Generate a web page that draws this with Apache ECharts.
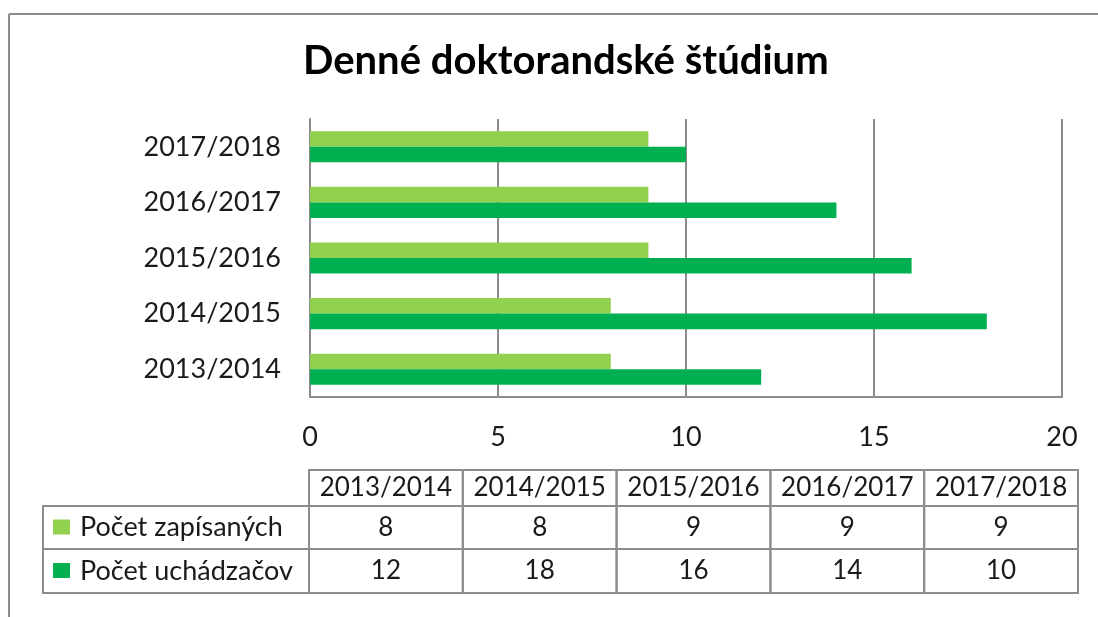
<!DOCTYPE html>
<html>
<head>
<meta charset="UTF-8">
<title></title>
<style type="text/css">
  html, body { margin: 0; padding: 0; background: #fff; }
  #chart { width: 1098px; height: 617px; }
</style>
</head>
<body>
<div id="chart"></div>
<script src="https://cdn.jsdelivr.net/npm/echarts@6/dist/echarts.min.js"></script>
<script type="text/javascript">
var years = ['2013/2014', '2014/2015', '2015/2016', '2016/2017', '2017/2018'];
var seriesNames = ['Počet zapísaných', 'Počet uchádzačov'];
var zapisanych = [8, 8, 9, 9, 9];
var uchadzacov = [12, 18, 16, 14, 10];
var xTicks = [0, 5, 10, 15, 20];

var colors = ['#92D050', '#00B050'];
var lineColor = '#8c8c8c';
var font = 'Lato';

var chart = echarts.init(document.getElementById('chart'));

// tabulka pod grafom
var tab = { left: 43, colStart: 309, right: 1078, rows: [470, 506, 549, 593] };
var colW = (tab.right - tab.colStart) / years.length;
var rowData = [zapisanych, uchadzacov];
var graphic = [];

// ramik okolo celeho obrazku (len hore a vlavo)
graphic.push({ type: 'line', shape: { x1: 9, y1: 14, x2: 1098, y2: 14 }, style: { stroke: lineColor, lineWidth: 2 } });
graphic.push({ type: 'line', shape: { x1: 9, y1: 14, x2: 9, y2: 617 }, style: { stroke: lineColor, lineWidth: 2 } });

years.forEach(function(y, i) {
  var x = tab.colStart + i * colW;
  graphic.push({ type: 'rect', shape: { x: x, y: tab.rows[0], width: colW, height: tab.rows[1] - tab.rows[0] },
    style: { fill: 'none', stroke: lineColor, lineWidth: 2 } });
  graphic.push({ type: 'text', x: x + colW / 2, y: (tab.rows[0] + tab.rows[1]) / 2,
    style: { text: y, fontFamily: font, fontSize: 26, fill: '#1a1a1a', align: 'center', verticalAlign: 'middle' } });
});

rowData.forEach(function(vals, r) {
  var y0 = tab.rows[r + 1], y1 = tab.rows[r + 2];
  graphic.push({ type: 'rect', shape: { x: tab.left, y: y0, width: tab.colStart - tab.left, height: y1 - y0 },
    style: { fill: 'none', stroke: lineColor, lineWidth: 2 } });
  graphic.push({ type: 'rect', shape: { x: 53, y: (y0 + y1) / 2 - 8, width: 17, height: 15 },
    style: { fill: colors[r] } });
  graphic.push({ type: 'text', x: 80, y: (y0 + y1) / 2,
    style: { text: seriesNames[r], fontFamily: font, fontSize: 27, fill: '#1a1a1a', verticalAlign: 'middle' } });
  vals.forEach(function(v, i) {
    var x = tab.colStart + i * colW;
    graphic.push({ type: 'rect', shape: { x: x, y: y0, width: colW, height: y1 - y0 },
      style: { fill: 'none', stroke: lineColor, lineWidth: 2 } });
    graphic.push({ type: 'text', x: x + colW / 2, y: (y0 + y1) / 2,
      style: { text: String(v), fontFamily: font, fontSize: 26, fill: '#1a1a1a', align: 'center', verticalAlign: 'middle' } });
  });
});

var option = {
  animation: false,
  title: {
    text: 'Denné doktorandské štúdium',
    left: 298,
    top: 36,
    textStyle: { fontFamily: font, fontSize: 40, fontWeight: 'bold', color: '#000' }
  },
  grid: { left: 310, right: 36, top: 119, bottom: 220, containLabel: false },
  xAxis: {
    type: 'value',
    min: xTicks[0],
    max: xTicks[xTicks.length - 1],
    interval: 5,
    axisLine: { show: true, lineStyle: { color: lineColor, width: 2 } },
    axisTick: { show: false },
    splitLine: { show: true, lineStyle: { color: lineColor, width: 2 } },
    axisLabel: { margin: 27, fontFamily: font, fontSize: 27, color: '#1a1a1a' }
  },
  yAxis: {
    type: 'category',
    data: years,
    axisLine: { show: true, lineStyle: { color: lineColor, width: 2 } },
    axisTick: { show: false },
    axisLabel: { margin: 29, fontFamily: font, fontSize: 27, color: '#1a1a1a' }
  },
  series: [
    {
      name: seriesNames[0],
      type: 'bar',
      data: zapisanych,
      itemStyle: { color: colors[0] },
      barGap: '0%',
      barCategoryGap: '44%'
    },
    {
      name: seriesNames[1],
      type: 'bar',
      data: uchadzacov,
      itemStyle: { color: colors[1] }
    }
  ],
  graphic: graphic
};

chart.setOption(option);
</script>
</body>
</html>
